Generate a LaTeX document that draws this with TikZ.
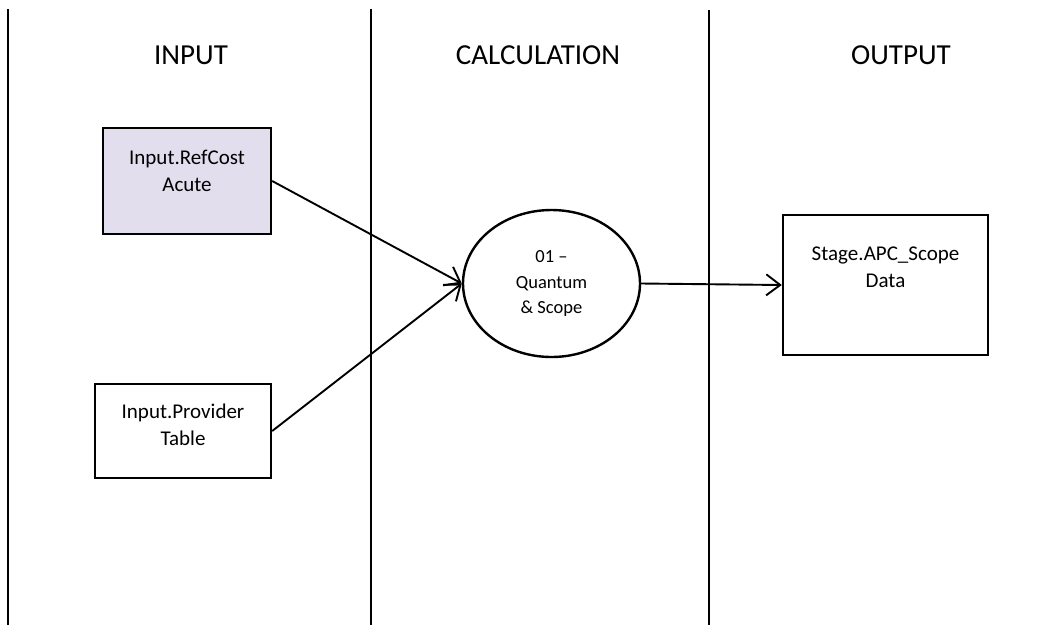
\documentclass[tikz,border=0pt]{standalone}
\usepackage{fontspec}
\setmainfont{Carlito}
\usetikzlibrary{shapes.geometric,arrows.meta}
\definecolor{refill}{RGB}{227,222,238}
\tikzset{
  lane/.style={line width=1.4pt},
  heading/.style={font=\fontsize{29}{35}\selectfont, inner sep=0pt},
  boxnode/.style={draw, line width=2.4pt, rectangle, inner sep=0pt},
  boxtext/.style={font=\fontsize{21}{27}\selectfont, align=center, inner sep=0pt, anchor=north},
  procnode/.style={draw, line width=2.4pt, ellipse, inner sep=0pt,
    font=\fontsize{18.5}{25.5}\selectfont, align=center},
  flow/.style={line width=1.9pt, -{Straight Barb[length=14pt,width=21pt,line width=1.9pt]}}
}
\begin{document}
\begin{tikzpicture}[x=1pt,y=-1pt]
  \useasboundingbox (0,0) rectangle (1041,625);

  % swim-lane dividers
  \coordinate (l1t) at (8,9);   \coordinate (l1b) at (8,625);
  \coordinate (l2t) at (371,9); \coordinate (l2b) at (371,625);
  \coordinate (l3t) at (709,10);\coordinate (l3b) at (709,625);
  \draw[lane] (l1t) -- (l1b);
  \draw[lane] (l2t) -- (l2b);
  \draw[lane] (l3t) -- (l3b);

  % lane headings
  \node[heading] (hin)   at (191,55) {INPUT};
  \node[heading] (hcalc) at (538,55) {CALCULATION};
  \node[heading] (hout)  at (901,55) {OUTPUT};

  % input tables
  \node[boxnode, fill=refill, minimum width=168pt, minimum height=106pt] (ref) at (187,181) {};
  \node[boxtext] (reftxt) at ([yshift=-23pt]ref.north) {Input.RefCost\\Acute};

  \node[boxnode, minimum width=176pt, minimum height=94pt] (prov) at (183,431) {};
  \node[boxtext] (provtxt) at ([yshift=-21pt]prov.north) {Input.Provider\\Table};

  % calculation step
  \node[procnode, minimum width=177pt, minimum height=147pt] (calc) at (551.5,283.5) {01 --\\Quantum\\\& Scope};

  % output table
  \node[boxnode, minimum width=205pt, minimum height=140pt] (stage) at (885.5,285) {};
  \node[boxtext] (stagetxt) at ([yshift=-33pt]stage.north) {Stage.APC\_Scope\\Data};

  % data flows
  \draw[flow] (ref.east) -- (calc.west);
  \draw[flow] (prov.east) -- (calc.west);
  \draw[flow] (calc.east) -- (stage.west);
\end{tikzpicture}
\end{document}
